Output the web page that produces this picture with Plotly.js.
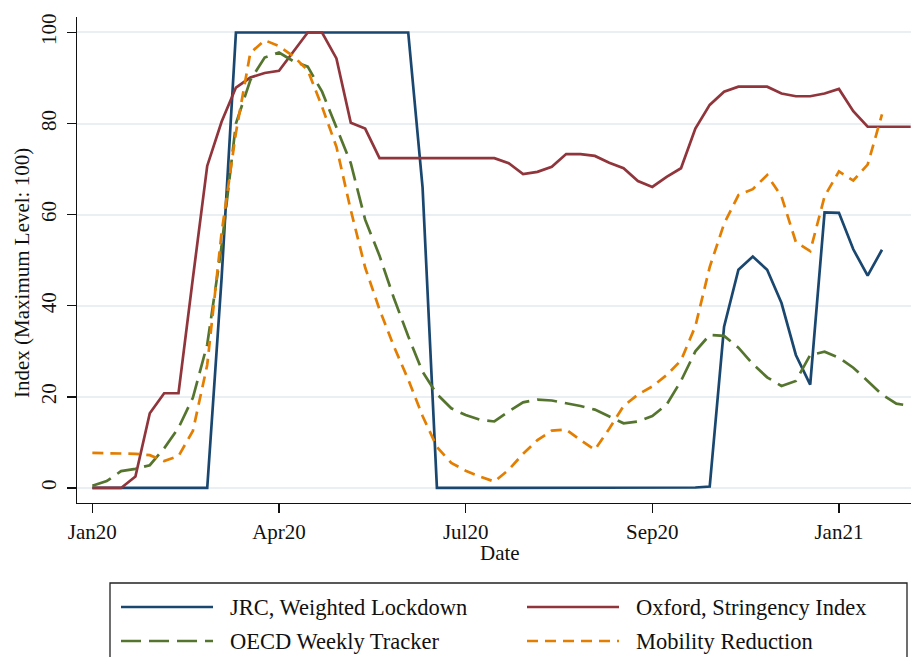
<!DOCTYPE html>
<html>
<head>
<meta charset="utf-8">
<script src="https://cdn.plot.ly/plotly-3.0.1.min.js"></script>
<style>html,body{margin:0;padding:0;background:#fff;}#chart{width:912px;height:657px;}</style>
</head>
<body>
<div id="chart"></div>
<script>
// Weekly index (Stata weeks: 0 = 2020w1)
const weeksJRC = [...Array(56).keys()];
const weeksOxford = [...Array(58).keys()];
const weeksOECD = [...Array(58).keys()];
const weeksMobility = [...Array(56).keys()];

const jrc = [0,0,0,0,0,0,0,0,0,46,
  100,100,100,100,100,100,100,100,100,100,
  100,100,100,66,0,0,0,0,0,0,
  0,0,0,0,0,0,0,0,0,0,
  0,0.05,0.1,0.3,35.4,47.9,50.8,47.9,40.6,29.2,
  22.7,60.5,60.4,52.4,46.6,52.3];

const oxford = [0,0,0,2.5,16.4,20.8,20.8,46,70.7,80.4,
  87.9,90.1,91.1,91.6,95.8,100,100,94.3,80.2,78.9,
  72.4,72.4,72.4,72.4,72.4,72.4,72.4,72.4,72.4,71.3,
  68.9,69.4,70.5,73.3,73.3,72.9,71.4,70.2,67.4,66.1,
  68.3,70.2,78.9,84.1,87.0,88.1,88.1,88.1,86.6,86.0,
  86.0,86.6,87.6,82.7,79.3,79.3,79.3,79.3];

const oecd = [0.5,1.5,3.7,4.2,5.0,8.7,13.2,19.8,31.5,53,
  80,89.5,94.5,95.6,93.7,92.5,87,79.3,71.3,58.9,
  51,41.7,33.3,25.5,20.6,17.5,16,15,14.6,16.8,
  18.8,19.4,19.2,18.6,18,17.2,15.7,14.2,14.6,15.8,
  18.3,23.5,30,33.6,33.4,30.8,27.2,24.3,22.4,23.5,
  29.2,29.9,28.6,26.4,23.5,20.5,18.5,18.0];

const mobility = [7.7,7.6,7.5,7.5,7.2,5.9,7.0,12.5,27,56,
  78,95.5,98.3,97,94.8,91.7,83.7,74.9,61,48.4,
  39.2,31.1,23.8,15.8,9,5.5,3.8,2.5,1.4,4,
  7.5,10.5,12.6,12.8,10.5,8.4,13,18,20.5,22.3,
  24.8,28,35.5,48.5,58,64.3,65.6,68.7,64,54,
  52,64,69.5,67.5,71,82];

const tickWeeks = [0,13,26,39,52];
const tickLabels = ["Jan20","Apr20","Jul20","Sep20","Jan21"];
const yTicks = [0,20,40,60,80,100];

const seriesNames = ["JRC, Weighted Lockdown","Oxford, Stringency Index","OECD Weekly Tracker","Mobility Reduction"];
const seriesColors = ["#1a476f","#90353b","#55752f","#e37e00"];
const seriesDash = ["solid","solid","20px,8px","11px,7px"];

const FONT = "'Liberation Serif', 'DejaVu Serif', serif";
const LW = 2.7;

const traces = [
  {x: weeksJRC, y: jrc},
  {x: weeksOxford, y: oxford},
  {x: weeksOECD, y: oecd},
  {x: weeksMobility, y: mobility}
].map((t,i)=>({
  type:'scatter', mode:'lines', x:t.x, y:t.y, name:seriesNames[i],
  line:{color:seriesColors[i], width:LW, dash:seriesDash[i]}, hoverinfo:'skip'
}));

// pixel helpers for decoration placement
const L=77, R=1, T=17, B=154, W=912, H=657;
const pw = W-L-R, ph = H-T-B;
const px = v => (v-L)/pw;
const py = v => (H-B-v)/ph;

const shapes = [];
const annotations = [];
// legend box
shapes.push({type:'rect', xref:'paper', yref:'paper', x0:px(110), x1:px(907), y0:py(700), y1:py(583),
  line:{color:'#222', width:1.3}, fillcolor:'rgba(0,0,0,0)'});
const legPos = [[121,607],[527,607],[121,641],[527,641]];
seriesNames.forEach((n,i)=>{
  const [lx,ly] = legPos[i];
  shapes.push({type:'line', xref:'paper', yref:'paper', x0:px(lx), x1:px(lx+92), y0:py(ly), y1:py(ly),
    line:{color:seriesColors[i], width:LW, dash:seriesDash[i]}});
  annotations.push({xref:'paper', yref:'paper', x:px(lx+107), y:py(ly), text:n, showarrow:false,
    xanchor:'left', yanchor:'middle', font:{family:FONT, size:22.5, color:'#111'}});
});
// axis titles
annotations.push({xref:'paper', yref:'paper', x:px(500), y:py(553), text:'Date', showarrow:false,
  xanchor:'center', yanchor:'middle', font:{family:FONT, size:21, color:'#111'}});
annotations.push({xref:'paper', yref:'paper', x:px(22), y:py(273), text:'Index (Maximum Level: 100)', showarrow:false,
  textangle:-90, xanchor:'center', yanchor:'middle', font:{family:FONT, size:21, color:'#111'}});

const layout = {
  width:W, height:H,
  margin:{l:L, r:R, t:T, b:B, pad:0},
  paper_bgcolor:'#fff', plot_bgcolor:'#fff',
  showlegend:false,
  font:{family:FONT, size:20, color:'#111'},
  xaxis:{range:[-1.07,57.02], tickvals:tickWeeks, ticktext:tickLabels, showgrid:false, zeroline:false,
    showline:true, linecolor:'#111', linewidth:1.3, ticks:'outside', ticklen:9, tickwidth:1.3, tickcolor:'#111',
    tickfont:{family:FONT, size:21, color:'#111'}},
  yaxis:{range:[-3.3,103.4], tickvals:yTicks, showgrid:true, gridcolor:'#e9eff3', gridwidth:2, zeroline:false,
    showline:true, linecolor:'#111', linewidth:1.3, ticks:'outside', ticklen:9, tickwidth:1.3, tickcolor:'#111',
    tickangle:-90, tickfont:{family:FONT, size:21, color:'#111'}, ticklabelstandoff:2},
  shapes:shapes, annotations:annotations
};

Plotly.newPlot('chart', traces, layout, {displayModeBar:false, staticPlot:true});
</script>
</body>
</html>
